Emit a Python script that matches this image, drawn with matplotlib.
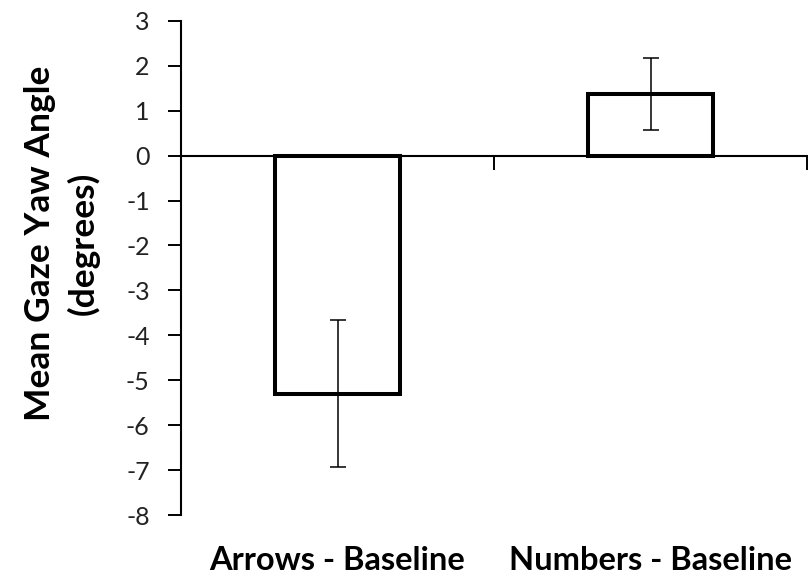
import matplotlib
matplotlib.use("Agg")
import matplotlib.pyplot as plt

# values
categories = ["Arrows - Baseline", "Numbers - Baseline"]
means = [-5.3, 1.38]
errors = [1.64, 0.80]
y_ticks = list(range(-8, 4))

plt.rcParams['font.family'] = ['Lato', 'DejaVu Sans']

fig = plt.figure(figsize=(8.08, 5.79), dpi=100)
ax = fig.add_axes([0.224, 0.1105, 0.775, 0.8535])

x = list(range(len(categories)))
ax.bar(x, means, width=0.4, color='white', edgecolor='black', linewidth=2.9, zorder=3)
ax.errorbar(x, means, yerr=errors, fmt='none', ecolor='black',
            elinewidth=1.1, capsize=6, capthick=1.1, zorder=4)

ax.set_xlim(-0.5, len(categories) - 0.5)
ax.set_ylim(-8, 3)
ax.set_yticks(y_ticks)
ax.set_yticklabels([str(t) for t in y_ticks], fontsize=18, color='#222222')
ax.tick_params(axis='y', direction='out', length=9.5, width=1.4, pad=13)

# horizontal axis crosses at zero, ticks between categories
ax.spines['top'].set_visible(False)
ax.spines['right'].set_visible(False)
ax.spines['left'].set_linewidth(1.5)
ax.spines['bottom'].set_position(('data', 0))
ax.spines['bottom'].set_linewidth(1.5)
ax.set_xticks([i - 0.5 for i in range(len(categories) + 1)])
ax.set_xticklabels([])
ax.tick_params(axis='x', direction='out', length=10, width=1.4)

# category labels along the bottom
sec = ax.secondary_xaxis('bottom')
sec.set_xticks(x)
sec.set_xticklabels(categories, fontsize=23.5, fontweight='bold')
sec.tick_params(length=0, pad=22)
sec.spines['bottom'].set_visible(False)

ax.set_ylabel("Mean Gaze Yaw Angle\n(degrees)", fontsize=25.5, fontweight='bold',
              linespacing=1.4)
ax.yaxis.set_label_coords(-0.13, 0.549)

fig.savefig("out.png", dpi=100)
